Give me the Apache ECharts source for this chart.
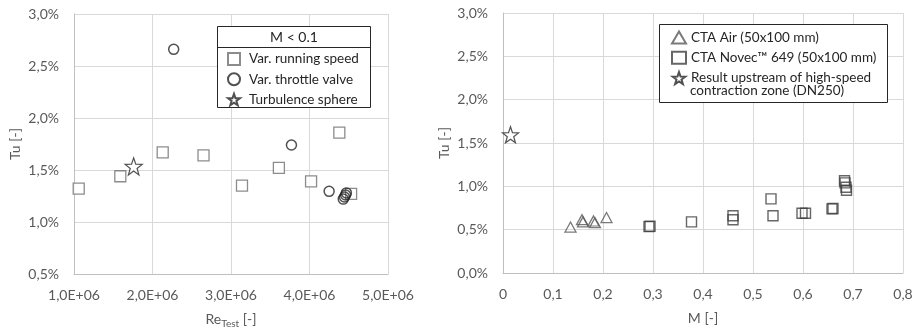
<!DOCTYPE html>
<html>
<head>
<meta charset="utf-8">
<script src="https://cdn.jsdelivr.net/npm/echarts@6/dist/echarts.min.js"></script>
<style>
  html, body { margin: 0; padding: 0; background: #fff; }
  #chart { width: 916px; height: 334px; }
</style>
</head>
<body>
<div id="chart"></div>
<script>
// Left panel: Tu [%] versus Re_Test at M < 0.1
const runningSpeed = [
  [1.06e6, 1.32], [1.59e6, 1.44], [2.13e6, 1.67], [2.65e6, 1.64], [3.14e6, 1.35],
  [3.61e6, 1.52], [4.02e6, 1.39], [4.38e6, 1.86], [4.53e6, 1.27]
];
const throttleValve = [
  [2.27e6, 2.66], [3.77e6, 1.74], [4.25e6, 1.295],
  [4.43e6, 1.22], [4.445e6, 1.24], [4.46e6, 1.26], [4.47e6, 1.28]
];
const turbulenceSphere = [[1.76e6, 1.535]];

// Right panel: Tu [%] versus Mach number
const ctaAir = [
  [0.135, 0.53], [0.158, 0.615], [0.16, 0.59], [0.181, 0.60], [0.184, 0.58], [0.207, 0.64]
];
const ctaNovec = [
  [0.292, 0.535], [0.294, 0.54], [0.377, 0.59], [0.46, 0.66], [0.46, 0.615],
  [0.536, 0.855], [0.54, 0.66], [0.598, 0.69], [0.605, 0.69], [0.658, 0.74], [0.66, 0.745],
  [0.683, 1.065], [0.684, 1.04], [0.686, 0.99], [0.687, 0.955]
];
const upstreamDN250 = [[0.015, 1.595]];

const leftXTicks = { min: 1e6, max: 5e6, step: 1e6 };
const leftYTicks = { min: 0.5, max: 3.0, step: 0.5 };
const rightXTicks = { min: 0, max: 0.8, step: 0.1 };
const rightYTicks = { min: 0, max: 3.0, step: 0.5 };

const FONT = 'Lato';
const starPath = 'path://M0,-10 L2.35,-3.24 L9.51,-3.09 L3.8,1.24 L5.88,8.09 L0,4 L-5.88,8.09 L-3.8,1.24 L-9.51,-3.09 L-2.35,-3.24 Z';

const pct = v => v.toFixed(1).replace('.', ',') + '%';
const sci = v => (v / 1e6).toFixed(1).replace('.', ',') + 'E+06';
const mach = v => v === 0 ? '0' : v.toFixed(1).replace('.', ',');

const axisCommon = {
  type: 'value',
  axisLine: { show: true, lineStyle: { color: '#bfbfbf', width: 1 } },
  axisTick: { show: false },
  splitLine: { show: true, lineStyle: { color: '#d9d9d9', width: 1 } },
  axisLabel: { color: '#595959', fontFamily: FONT, fontSize: 14 },
  nameTextStyle: { color: '#595959', fontFamily: FONT, fontSize: 14 }
};

function xAxis(grid, t, fmt, name, extra) {
  return Object.assign({}, axisCommon, {
    gridIndex: grid, min: t.min, max: t.max, interval: t.step,
    name: name, nameLocation: 'middle', nameGap: 38,
    axisLabel: Object.assign({}, axisCommon.axisLabel, { formatter: fmt, margin: 14 })
  }, extra || {});
}
function yAxis(grid, t, name) {
  return Object.assign({}, axisCommon, {
    gridIndex: grid, min: t.min, max: t.max, interval: t.step,
    name: name, nameLocation: 'middle', nameGap: 52,
    axisLabel: Object.assign({}, axisCommon.axisLabel, { formatter: pct, margin: 15 })
  });
}

const legendText = { color: '#262626', fontFamily: FONT, fontSize: 13.5, lineHeight: 13 };

const chart = echarts.init(document.getElementById('chart'), null, { renderer: 'canvas' });

chart.setOption({
  backgroundColor: '#ffffff',
  animation: false,
  textStyle: { fontFamily: FONT },
  grid: [
    { left: 74, right: 528, top: 14, bottom: 60 },
    { left: 503, right: 13, top: 13, bottom: 61 }
  ],
  xAxis: [
    xAxis(0, leftXTicks, sci, '{a|Re}{b|Test}{a| [-]}', {
      nameTextStyle: {
        color: '#595959', fontFamily: FONT, fontSize: 14,
        rich: {
          a: { fontFamily: FONT, fontSize: 14, color: '#595959', verticalAlign: 'top', lineHeight: 18 },
          b: { fontFamily: FONT, fontSize: 10, color: '#595959', verticalAlign: 'top', lineHeight: 18, padding: [7, 0, 0, 0] }
        }
      }
    }),
    xAxis(1, rightXTicks, mach, 'M [-]')
  ],
  yAxis: [
    yAxis(0, leftYTicks, 'Tu [-]'),
    yAxis(1, rightYTicks, 'Tu [-]')
  ],
  legend: [
    {
      orient: 'vertical', left: 227, top: 52, padding: 0,
      itemWidth: 12, itemHeight: 12, itemGap: 6.3,
      textStyle: Object.assign({}, legendText, { padding: [0, 0, 0, 4] }),
      selectedMode: false,
      data: ['Var. running speed', 'Var. throttle valve', 'Turbulence sphere']
    },
    {
      orient: 'vertical', left: 671, top: 30.5, padding: 0,
      itemWidth: 14, itemHeight: 12, itemGap: 6.3,
      textStyle: legendText,
      selectedMode: false,
      data: ['CTA Air (50x100 mm)', 'CTA Novec\u2122 649 (50x100 mm)', 'Result upstream of high-speed']
    }
  ],
  graphic: [
    { type: 'rect', shape: { x: 217.5, y: 26.5, width: 153, height: 81 },
      style: { fill: '#fff', stroke: '#262626', lineWidth: 1 }, z: 1 },
    { type: 'line', shape: { x1: 217.5, y1: 47.5, x2: 370.5, y2: 47.5 },
      style: { stroke: '#262626', lineWidth: 1 }, z: 2 },
    { type: 'text', x: 294, y: 37.5, z: 3,
      style: { text: 'M < 0.1', fontFamily: FONT, fontSize: 14, fill: '#262626', align: 'center', verticalAlign: 'middle' } },
    { type: 'rect', shape: { x: 659.5, y: 24.5, width: 228, height: 78 },
      style: { fill: '#fff', stroke: '#262626', lineWidth: 1 }, z: 1 },
    { type: 'text', x: 690, y: 91, z: 3,
      style: { text: 'contraction zone (DN250)', fontFamily: FONT, fontSize: 13.5, fill: '#262626', align: 'left', verticalAlign: 'middle' } }
  ],
  series: [
    { name: 'Var. running speed', type: 'scatter', xAxisIndex: 0, yAxisIndex: 0,
      data: runningSpeed, symbol: 'rect', symbolSize: 11,
      itemStyle: { color: '#ffffff', borderColor: '#6f6f6f', borderWidth: 1.3 } },
    { name: 'Var. throttle valve', type: 'scatter', xAxisIndex: 0, yAxisIndex: 0,
      data: throttleValve, symbol: 'circle', symbolSize: 10,
      itemStyle: { color: 'rgba(255,255,255,0)', borderColor: '#262626', borderWidth: 1.5 } },
    { name: 'Turbulence sphere', type: 'scatter', xAxisIndex: 0, yAxisIndex: 0,
      data: turbulenceSphere, symbol: starPath, symbolSize: 17,
      itemStyle: { color: '#ffffff', borderColor: '#262626', borderWidth: 1.2 } },
    { name: 'CTA Air (50x100 mm)', type: 'scatter', xAxisIndex: 1, yAxisIndex: 1,
      data: ctaAir, symbol: 'triangle', symbolSize: [11, 10],
      itemStyle: { color: 'rgba(255,255,255,0)', borderColor: '#595959', borderWidth: 1.3 } },
    { name: 'CTA Novec\u2122 649 (50x100 mm)', type: 'scatter', xAxisIndex: 1, yAxisIndex: 1,
      data: ctaNovec, symbol: 'rect', symbolSize: 10,
      itemStyle: { color: 'rgba(255,255,255,0)', borderColor: '#404040', borderWidth: 1.4 } },
    { name: 'Result upstream of high-speed', type: 'scatter', xAxisIndex: 1, yAxisIndex: 1,
      data: upstreamDN250, symbol: starPath, symbolSize: 16,
      itemStyle: { color: '#ffffff', borderColor: '#262626', borderWidth: 1.2 } }
  ]
});
</script>
</body>
</html>
